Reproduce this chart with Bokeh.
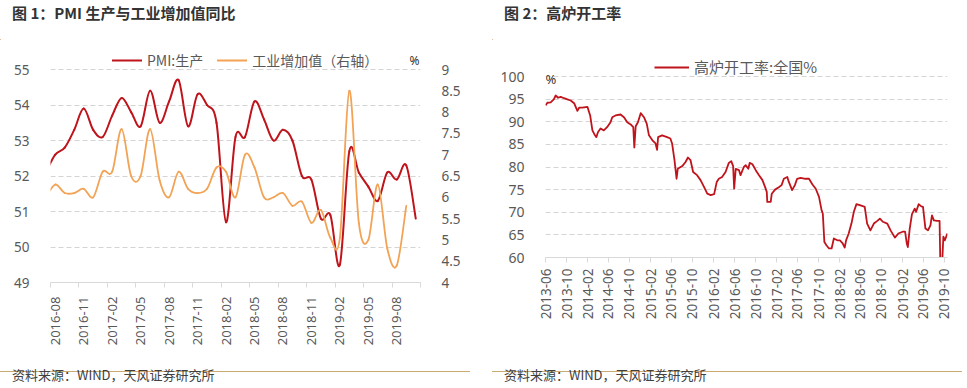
import math
import pandas as pd
from bokeh.plotting import figure
from bokeh.models import (Range1d, LinearAxis, FixedTicker, Legend, LegendItem, Label,
                          Div, Spacer, DatetimeTickFormatter, ColumnDataSource)
from bokeh.layouts import row, column
from bokeh.embed import file_html
from bokeh.resources import INLINE

# ---------------- data: chart 1 (monthly) ----------------
# first month (2016-07) lies just left of the visible axis start (line enters from the edge)
months = list(pd.period_range("2016-07", "2019-10", freq="M").strftime("%Y-%m"))
pmi_prod = [52.1, 52.6, 52.8, 53.3, 53.9, 53.3,
            53.1, 53.7, 54.2, 53.8, 53.4, 54.4, 53.5, 54.1, 54.7, 53.4, 54.3, 54.0,
            53.5, 50.7, 53.1, 53.1, 54.1, 53.6, 53.0, 53.3, 53.0, 52.0, 51.9, 50.8,
            50.9, 49.5, 52.7, 52.1, 51.7, 51.3, 52.1, 51.9, 52.3, 50.8]
iva_yoy = [6.0, 6.3, 6.1, 6.1, 6.2, 6.0,
           6.6, 6.6, 7.6, 6.5, 6.5, 7.6, 6.4, 6.0, 6.6, 6.2, 6.1, 6.2,
           6.7, 6.6, 6.0, 7.0, 6.7, 6.0, 6.0, 6.1, 5.8, 5.9, 5.4, 5.7,
           5.05, 5.05, 8.5, 5.4, 5.0, 6.3, 4.8, 4.4, 5.8, None]
left_ticks = [49, 50, 51, 52, 53, 54, 55]
right_ticks = [4, 4.5, 5, 5.5, 6, 6.5, 7, 7.5, 8, 8.5, 9]
x_labels1 = months[1::3]          # 2016-08, 2016-11, ... 2019-08

# ---------------- data: chart 2 (weekly) ----------------
bf_dates = ["2013-06-01", "2013-06-12", "2013-07-01", "2013-07-20", "2013-07-30", "2013-08-13", "2013-08-28",
            "2013-09-17", "2013-10-06", "2013-10-25", "2013-11-14", "2013-11-23", "2013-12-03", "2013-12-13",
            "2014-01-01", "2014-01-30", "2014-02-15", "2014-02-28", "2014-03-12", "2014-03-23", "2014-04-01",
            "2014-04-16", "2014-05-05", "2014-05-24", "2014-06-13", "2014-06-23", "2014-07-12", "2014-08-10",
            "2014-08-30", "2014-09-18", "2014-10-08", "2014-10-23", "2014-10-29", "2014-11-06", "2014-11-19",
            "2014-12-05", "2014-12-24", "2015-01-09", "2015-01-22", "2015-02-11", "2015-03-01", "2015-03-10",
            "2015-03-16", "2015-04-08", "2015-05-07", "2015-05-26", "2015-06-05", "2015-06-19", "2015-07-01",
            "2015-07-08", "2015-08-03", "2015-08-22", "2015-09-05", "2015-09-20", "2015-10-05", "2015-10-28",
            "2015-11-17", "2015-12-07", "2015-12-26", "2016-01-15", "2016-02-04", "2016-02-19", "2016-03-02",
            "2016-03-21", "2016-04-10", "2016-04-29", "2016-05-13", "2016-05-24", "2016-05-30", "2016-06-08",
            "2016-06-27", "2016-07-06", "2016-07-25", "2016-08-05", "2016-08-20", "2016-08-28", "2016-09-13",
            "2016-10-02", "2016-10-21", "2016-11-10", "2016-11-25", "2016-12-05", "2016-12-08", "2016-12-28",
            "2017-01-03", "2017-01-22", "2017-02-15", "2017-03-01", "2017-03-14", "2017-04-03", "2017-04-12",
            "2017-05-01", "2017-05-17", "2017-05-30", "2017-06-19", "2017-07-17", "2017-08-07", "2017-08-26",
            "2017-09-15", "2017-10-04", "2017-10-19", "2017-10-26", "2017-11-04", "2017-11-16", "2017-12-01",
            "2017-12-16", "2017-12-29", "2018-01-18", "2018-02-02", "2018-02-17", "2018-03-02", "2018-03-10",
            "2018-03-25", "2018-04-10", "2018-04-24", "2018-05-09", "2018-06-02", "2018-06-26", "2018-07-10",
            "2018-07-29", "2018-08-18", "2018-09-07", "2018-09-22", "2018-10-09", "2018-11-04", "2018-11-23",
            "2018-12-18", "2019-01-07", "2019-02-01", "2019-02-15", "2019-02-25", "2019-03-03", "2019-03-14",
            "2019-03-27", "2019-04-12", "2019-04-20", "2019-05-05", "2019-05-20", "2019-05-30", "2019-06-13",
            "2019-06-28", "2019-07-12", "2019-07-21", "2019-08-01", "2019-08-20", "2019-09-03", "2019-09-07",
            "2019-09-19", "2019-09-25", "2019-10-04", "2019-10-18"]
bf_rate = [93.6, 94.2, 94.3, 95.0, 95.8, 95.3, 95.5,
           95.2, 94.95, 94.7, 94.1, 93.3, 92.4, 93.1,
           93.1, 93.3, 91.4, 88.1, 87.2, 86.6, 87.7,
           88.5, 88.1, 88.8, 89.9, 91.0, 91.4, 91.6,
           91.0, 89.9, 89.4, 88.8, 84.3, 89.0, 89.9,
           91.9, 91.0, 89.6, 87.0, 85.9, 85.2, 83.8,
           86.6, 87.0, 86.6, 86.3, 85.2, 81.5, 77.4,
           79.6, 80.2, 81.1, 82.1, 81.5, 78.9, 78.2,
           77.1, 75.6, 74.1, 73.8, 74.0, 76.7, 77.4,
           77.8, 78.9, 80.9, 81.3, 80.2, 75.2, 79.6,
           79.3, 78.2, 80.0, 80.4, 79.6, 80.9, 80.6,
           79.3, 78.2, 77.1, 75.6, 74.5, 72.3, 72.3,
           74.1, 75.0, 75.6, 76.0, 77.4, 77.8, 76.7,
           74.9, 76.0, 77.4, 77.6, 77.4, 77.4, 76.2,
           75.2, 73.4, 70.4, 69.7, 63.4, 62.7, 62.0,
           62.0, 64.2, 63.8, 63.8, 63.2, 62.2, 63.8,
           65.3, 67.5, 70.1, 71.8, 71.5, 71.2, 67.5,
           66.0, 67.5, 68.1, 68.6, 67.9, 67.5, 66.0,
           64.4, 65.3, 65.7, 65.7, 63.1, 62.3, 66.4,
           69.6, 70.8, 70.1, 71.8, 71.3, 71.2, 66.4,
           66.0, 67.1, 69.3, 68.2, 68.1, 68.1, 59.5,
           59.5, 64.6, 63.8, 65.3]
bf_ticks = ["2013-06", "2013-10", "2014-02", "2014-06", "2014-10", "2015-02", "2015-06", "2015-10",
            "2016-02", "2016-06", "2016-10", "2017-02", "2017-06", "2017-10", "2018-02", "2018-06",
            "2018-10", "2019-02", "2019-06", "2019-10"]
bf_yticks = [60, 65, 70, 75, 80, 85, 90, 95, 100]

# ---------------- styles ----------------
RED = "#C0141C"
ORANGE = "#F2A355"
GRID = "#D4D4D4"
AXIS = "#D9D9D9"
TXT = "#595959"
GOLD = "#CBA972"
NUM_FONT = "Noto Sans"
CJK_FONT = "Noto Sans CJK SC"


def smooth_source(xs, ys):
    pts = [(x, y) for x, y in zip(xs, ys) if y is not None]
    n = len(pts)
    d = {k: [] for k in ("x0", "y0", "x1", "y1", "cx0", "cy0", "cx1", "cy1")}
    for i in range(n - 1):
        a, b = max(i - 1, 0), min(i + 2, n - 1)
        (xa, ya), (x0, y0), (x1, y1), (xb, yb) = pts[a], pts[i], pts[i + 1], pts[b]
        d["x0"].append(x0); d["y0"].append(y0); d["x1"].append(x1); d["y1"].append(y1)
        d["cx0"].append(x0 + (x1 - xa) / 6); d["cy0"].append(y0 + (y1 - ya) / 6)
        d["cx1"].append(x1 - (xb - x0) / 6); d["cy1"].append(y1 - (yb - y0) / 6)
    return ColumnDataSource(d)


def style_legend(leg, size):
    leg.orientation = "horizontal"
    leg.border_line_color = None
    leg.background_fill_alpha = 0
    leg.padding = 0
    leg.margin = 0
    leg.spacing = 14
    leg.glyph_width = 30
    leg.glyph_height = 20
    leg.label_height = 20
    leg.label_standoff = 5
    leg.label_text_font = CJK_FONT
    leg.label_text_font_size = size
    leg.label_text_color = TXT


# ---------------- chart 1 ----------------
# frame runs from the legend row (top) down to the 49 line; the value 55 sits 29px below frame top
top1 = 55 + 29 / 35.5
xpos = list(range(-1, len(months) - 1))   # category centres; 2016-08 -> 0
p1 = figure(width=470, height=331, x_range=Range1d(-0.5, 38.5), y_range=Range1d(49, top1),
            output_backend="svg", toolbar_location=None, min_border_left=50, min_border_right=50,
            min_border_top=11, min_border_bottom=78, margin=0)
p1.outline_line_color = None
p1.background_fill_color = "white"
p1.border_fill_color = "white"
p1.extra_y_ranges = {"iva": Range1d(4, 4 + (top1 - 49) * 5 / 6)}

r_pmi = p1.bezier(x0="x0", y0="y0", x1="x1", y1="y1", cx0="cx0", cy0="cy0", cx1="cx1", cy1="cy1",
                  source=smooth_source(xpos, pmi_prod), line_color=RED, line_width=2, line_cap="round")
r_iva = p1.bezier(x0="x0", y0="y0", x1="x1", y1="y1", cx0="cx0", cy0="cy0", cx1="cx1", cy1="cy1",
                  source=smooth_source(xpos, iva_yoy), line_color=ORANGE, line_width=1.8,
                  line_cap="round", y_range_name="iva")

ax = p1.xaxis[0]
ax.ticker = FixedTicker(ticks=[3 * k for k in range(len(x_labels1))],
                        minor_ticks=[3 * k - 0.5 for k in range(14)])
ax.major_label_overrides = {3 * k: lab for k, lab in enumerate(x_labels1)}
ax.major_label_orientation = math.pi / 2
ax.major_tick_line_color = None
ax.major_tick_out = 0
ax.major_tick_in = 0
ax.minor_tick_line_color = AXIS
ax.minor_tick_out = 5
ax.minor_tick_in = 0
ax.axis_line_color = AXIS
ax.major_label_standoff = 9
ax.major_label_text_font = NUM_FONT
ax.major_label_text_font_size = "13px"
ax.major_label_text_color = TXT

ay = p1.yaxis[0]
ay.ticker = FixedTicker(ticks=left_ticks)
ay.axis_line_color = None
ay.major_tick_line_color = None
ay.minor_tick_line_color = None
ay.major_label_standoff = 15
ay.major_label_text_font = NUM_FONT
ay.major_label_text_font_size = "13.5px"
ay.major_label_text_color = TXT

ay2 = LinearAxis(y_range_name="iva", ticker=FixedTicker(ticks=right_ticks),
                 major_label_overrides={t: f"{t:g}" for t in right_ticks})
ay2.axis_line_color = None
ay2.major_tick_line_color = None
ay2.minor_tick_line_color = None
ay2.major_label_standoff = 15
ay2.major_label_text_font = NUM_FONT
ay2.major_label_text_font_size = "13.5px"
ay2.major_label_text_color = TXT
p1.add_layout(ay2, "right")

p1.xgrid.grid_line_color = None
p1.ygrid.ticker = FixedTicker(ticks=left_ticks[1:])
p1.ygrid.grid_line_color = GRID
p1.ygrid.grid_line_dash = "5 3"
p1.ygrid.grid_line_width = 1

leg1 = Legend(items=[LegendItem(label="PMI:生产", renderers=[r_pmi]),
                     LegendItem(label="工业增加值（右轴）", renderers=[r_iva])],
              location=(62, 212))
style_legend(leg1, "14px")
p1.add_layout(leg1)
p1.add_layout(Label(x=369, y=222, x_units="screen", y_units="screen", text="%",
                    text_font=NUM_FONT, text_font_size="12px", text_color="#333333",
                    text_baseline="middle", text_align="right"))

# ---------------- chart 2 ----------------
# frame top is 26px above the 100 line (room for the legend); 181px spans 60..100
top2 = 100 + 26 / (181 / 40)
bf_x = pd.to_datetime(bf_dates)
src2 = ColumnDataSource(dict(x=bf_x, y=bf_rate))
p2 = figure(width=470, height=331, x_axis_type="datetime",
            x_range=Range1d(pd.Timestamp("2013-06-01"), pd.Timestamp("2019-10-19")),
            y_range=Range1d(60, top2), output_backend="svg", toolbar_location=None,
            min_border_left=53, min_border_right=15, min_border_top=21, min_border_bottom=103, margin=0)
p2.outline_line_color = None
p2.background_fill_color = "white"
p2.border_fill_color = "white"
r_bf = p2.line("x", "y", source=src2, line_color=RED, line_width=1.8, line_join="round")

bx = p2.xaxis[0]
bx.ticker = FixedTicker(ticks=[pd.Timestamp(t + "-01").value // 10**6 for t in bf_ticks])
bx.formatter = DatetimeTickFormatter(days="%Y-%m", months="%Y-%m", years="%Y-%m")
bx.major_label_orientation = math.pi / 2
bx.major_tick_line_color = AXIS
bx.major_tick_out = 5
bx.major_tick_in = 0
bx.minor_tick_line_color = None
bx.axis_line_color = AXIS
bx.major_label_standoff = 6
bx.major_label_text_font = NUM_FONT
bx.major_label_text_font_size = "13.5px"
bx.major_label_text_color = TXT

by = p2.yaxis[0]
by.ticker = FixedTicker(ticks=bf_yticks)
by.axis_line_color = None
by.major_tick_line_color = None
by.minor_tick_line_color = None
by.major_label_standoff = 15
by.major_label_text_font = NUM_FONT
by.major_label_text_font_size = "14px"
by.major_label_text_color = TXT

p2.xgrid.grid_line_color = None
p2.ygrid.ticker = FixedTicker(ticks=bf_yticks[1:])
p2.ygrid.grid_line_color = GRID
p2.ygrid.grid_line_dash = "5 3"

leg2 = Legend(items=[LegendItem(label="高炉开工率:全国%", renderers=[r_bf])], location=(109, 180))
style_legend(leg2, "15px")
leg2.glyph_width = 35
p2.add_layout(leg2)
p2.add_layout(Label(x=0, y=179, x_units="screen", y_units="screen", text="%",
                    text_font=NUM_FONT, text_font_size="13px", text_color="#333333",
                    text_baseline="middle"))


# ---------------- page furniture ----------------
def text_div(txt, w, h, size, weight, pad, top, color, lh):
    return Div(text=(f'<div style="font-family:\'{CJK_FONT}\';font-size:{size};font-weight:{weight};'
                     f'color:{color};line-height:{lh};padding-left:{pad}px;padding-top:{top}px;'
                     f'white-space:nowrap">{txt}</div>'),
               width=w, height=h, margin=0)


def rule_div(w):
    return Div(text=f'<div style="width:{w}px;height:1px;background:{GOLD}"></div>',
               width=w, height=1, margin=0)


left = column(text_div("图 1：PMI 生产与工业增加值同比", 470, 28, "15px", "bold", 12, 3, "#333333", "20px"),
              rule_div(470), p1, rule_div(470),
              text_div("资料来源：WIND，天风证券研究所", 470, 25, "13px", "normal", 12, 5, "#404040", "18px"),
              spacing=0, margin=0)
right = column(text_div("图 2：高炉开工率", 470, 28, "15px", "bold", 12, 3, "#333333", "20px"),
               rule_div(470), p2, rule_div(470),
               text_div("资料来源：WIND，天风证券研究所", 470, 25, "13px", "normal", 12, 5, "#404040", "18px"),
               spacing=0, margin=0)
page = row(left, Spacer(width=22, height=386, margin=0), right, spacing=0, margin=0)

with open("out.html", "w", encoding="utf-8") as f:
    f.write(file_html(page, INLINE, title="charts"))
